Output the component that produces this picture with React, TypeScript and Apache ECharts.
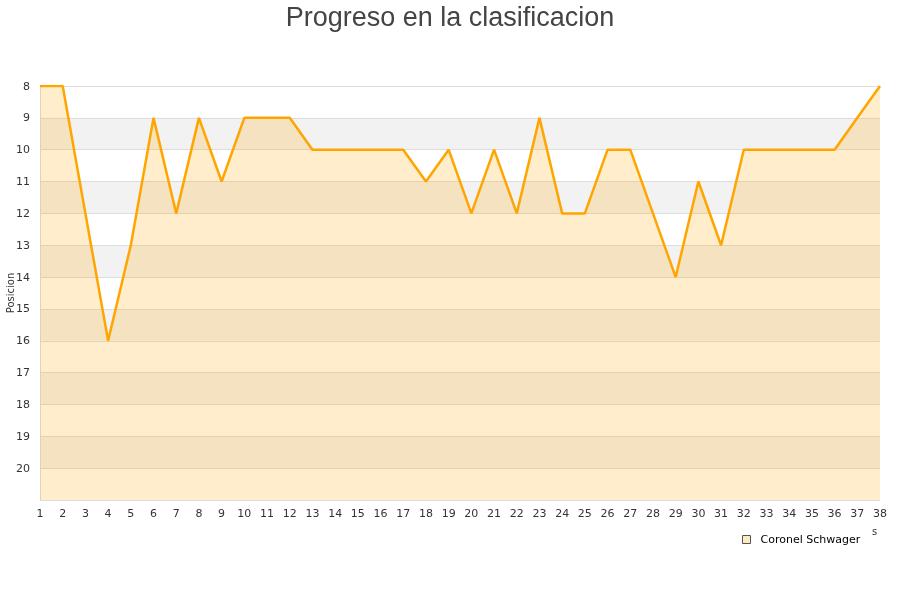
import React, { useEffect, useRef } from "react";
import * as echarts from "echarts";

const jornadas = [1, 2, 3, 4, 5, 6, 7, 8, 9, 10, 11, 12, 13, 14, 15, 16, 17, 18, 19, 20, 21, 22, 23, 24, 25, 26, 27, 28, 29, 30, 31, 32, 33, 34, 35, 36, 37, 38];
const posiciones = [8, 8, 12, 16, 13, 9, 12, 9, 11, 9, 9, 9, 10, 10, 10, 10, 10, 11, 10, 12, 10, 12, 9, 12, 12, 10, 10, 12, 14, 11, 13, 10, 10, 10, 10, 10, 9, 8];
const seriesName = "Coronel Schwager";
const titleText = "Progreso en la clasificacion";
const yAxisName = "Posicion";

export default function App() {
  const ref = useRef<HTMLDivElement>(null);
  useEffect(() => {
    if (!ref.current) return;
    const chart = echarts.init(ref.current, undefined, { renderer: "svg" });
    chart.setOption({
      animation: false,
      title: {
        text: titleText,
        left: "center",
        top: -2,
        textStyle: { fontFamily: "Liberation Sans", fontSize: 27, fontWeight: "normal", color: "#444" },
      },
      grid: { left: 40, right: 20, top: 86, bottom: 100, containLabel: false, outerBoundsMode: "none" },
      legend: {
        left: 737,
        top: 529,
        icon: "rect",
        itemWidth: 8,
        itemHeight: 8,
        itemGap: 10,
        textStyle: { fontFamily: "DejaVu Sans", fontSize: 11, color: "#000", padding: [0, 0, 0, 5] },
        data: [{ name: seriesName, itemStyle: { color: "#fde9c2", borderColor: "#555", borderWidth: 1 } }],
      },
      xAxis: {
        type: "value",
        min: 1,
        max: 38,
        interval: 1,
        axisLine: { show: true, lineStyle: { color: "#ddd" } },
        axisTick: { show: false },
        splitLine: { show: false },
        axisLabel: { fontFamily: "DejaVu Sans", fontSize: 11, color: "#333", margin: 8 },
      },
      yAxis: {
        type: "value",
        inverse: true,
        min: 8,
        max: 21,
        interval: 1,
        axisLine: { show: true, lineStyle: { color: "#ddd" } },
        axisTick: { show: false },
        axisLabel: {
          fontFamily: "DejaVu Sans",
          fontSize: 11,
          color: "#333",
          margin: 10,
          formatter: (v: number) => (v === 21 ? "" : String(v)),
        },
        splitLine: { show: true, lineStyle: { color: "#ddd", width: 1 } },
        splitArea: { show: true, areaStyle: { color: ["#ffffff", "#f2f2f2"] } },
      },
      graphic: [
        { type: "rect", shape: { x: 879.5, y: 86, width: 0, height: 414 }, style: { stroke: "#e4e4e4", lineWidth: 1, fill: "none" } },
        { type: "text", x: 872, y: 526, style: { text: "s", fontFamily: "DejaVu Sans", fontSize: 10, fill: "#333" } },
        {
          type: "text",
          x: 10,
          y: 293,
          rotation: Math.PI / 2,
          style: { text: yAxisName, fontFamily: "DejaVu Sans", fontSize: 10, fill: "#333", align: "center", verticalAlign: "middle" },
        },
      ],
      series: [
        {
          name: seriesName,
          type: "line",
          data: jornadas.map((j, i) => [j, posiciones[i]]),
          showSymbol: false,
          symbol: "none",
          lineStyle: { color: "#ffa500", width: 2.5 },
          itemStyle: { color: "#ffa500" },
          areaStyle: { color: "rgba(255,165,0,0.2)", opacity: 1, origin: "end" },
        },
      ],
    });
    return () => chart.dispose();
  }, []);
  return <div ref={ref} style={{ position: "fixed", left: 0, top: 0, width: 900, height: 600 }} />;
}
